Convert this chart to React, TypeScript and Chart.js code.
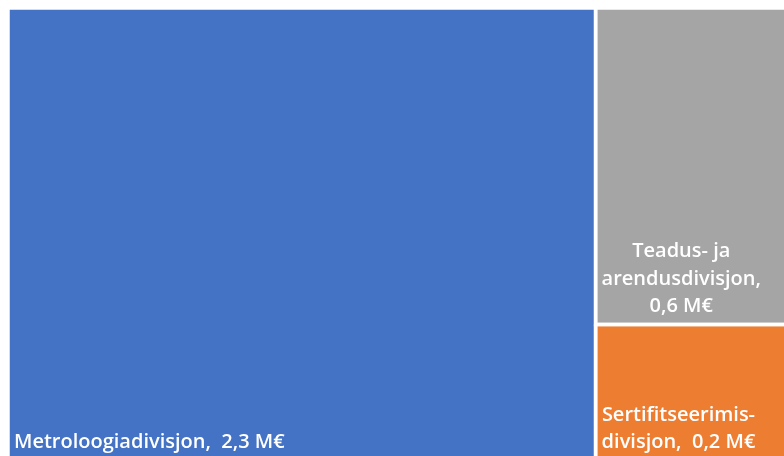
import React, { useEffect, useRef } from "react";
import { Chart, registerables } from "chart.js";

Chart.register(...registerables);

// Data
const categories = ["Metroloogiadivisjon", "Teadus- ja arendusdivisjon", "Sertifitseerimisdivisjon"];
const values = [2.3, 0.56, 0.24];
const colors = ["#4472C4", "#A5A5A5", "#ED7D31"];
// label lines ({v} replaced by formatted value)
const labelLines = [
  ["Metroloogiadivisjon,  {v}"],
  ["Teadus- ja", "arendusdivisjon,", "{v}"],
  ["Sertifitseerimis-", "divisjon,  {v}"],
];

const fmt = (v: number) => v.toFixed(1).replace(".", ",") + " M€";

type Rect = { x0: number; x1: number; y0: number; y1: number };

// simple treemap layout: largest item takes a full-height column, the rest stack in the remaining column
function layout(vals: number[]): Rect[] {
  const total = vals.reduce((a, b) => a + b, 0);
  const rects: Rect[] = [];
  const split = vals[0] / total;
  rects.push({ x0: 0, x1: split, y0: 0, y1: 1 });
  const rest = vals.slice(1).reduce((a, b) => a + b, 0);
  let top = 1;
  for (let i = 1; i < vals.length; i++) {
    const h = vals[i] / rest;
    rects.push({ x0: split, x1: 1, y0: top - h, y1: top });
    top -= h;
  }
  return rects;
}

export default function App() {
  const ref = useRef<HTMLCanvasElement>(null);
  useEffect(() => {
    document.documentElement.style.overflow = "hidden";
    const rects = layout(values);
    const datasets = rects.map((r, i) => ({
      label: categories[i],
      data: [
        { x: r.x0, y: r.y1 },
        { x: r.x1, y: r.y1 },
        { x: r.x1, y: r.y0 },
        { x: r.x0, y: r.y0 },
        { x: r.x0, y: r.y1 },
      ],
      showLine: true,
      fill: "shape",
      backgroundColor: colors[i],
      borderColor: "#FFFFFF",
      borderWidth: 3.5,
      borderJoinStyle: "miter",
      pointRadius: 0,
      pointHoverRadius: 0,
      tension: 0,
      clip: false,
    }));

    const labelPlugin = {
      id: "tmLabels",
      afterDatasetsDraw(chart: any) {
        const ctx = chart.ctx;
        const xs = chart.scales.x;
        const ys = chart.scales.y;
        ctx.save();
        ctx.fillStyle = "#FFFFFF";
        ctx.font = "600 20px 'Open Sans'";
        ctx.textBaseline = "alphabetic";
        rects.forEach((r, i) => {
          const left = xs.getPixelForValue(r.x0);
          const bottom = ys.getPixelForValue(r.y0);
          const lines = labelLines[i].map((l) => l.replace("{v}", fmt(values[i])));
          const widths = lines.map((l) => ctx.measureText(l).width);
          const maxW = Math.max(...widths);
          const lh = 27.5;
          const bx = left + 6;
          lines.forEach((l, j) => {
            const y = bottom - 12 - (lines.length - 1 - j) * lh;
            const x = bx + (maxW - widths[j]) / 2;
            ctx.fillText(l, x, y);
          });
        });
        ctx.restore();
      },
    };

    const chart = new Chart(ref.current!, {
      type: "scatter",
      data: { datasets: datasets as any },
      options: {
        animation: false,
        responsive: false,
        devicePixelRatio: 1,
        layout: { padding: 0 },
        scales: {
          x: { type: "linear", min: 0, max: 1, display: false },
          y: { type: "linear", min: 0, max: 1, display: false },
        },
        plugins: {
          legend: { display: false },
          tooltip: { enabled: false },
          filler: { drawTime: "beforeDatasetsDraw" },
        } as any,
      },
      plugins: [labelPlugin],
    });
    return () => chart.destroy();
  }, []);

  return (
    <div
      style={{
        position: "fixed",
        left: 8,
        top: 8,
        width: 776,
        height: 448,
        overflow: "hidden",
      }}
    >
      <canvas
        ref={ref}
        width={792}
        height={452}
        style={{ display: "block", width: 792, height: 452 }}
      />
    </div>
  );
}
